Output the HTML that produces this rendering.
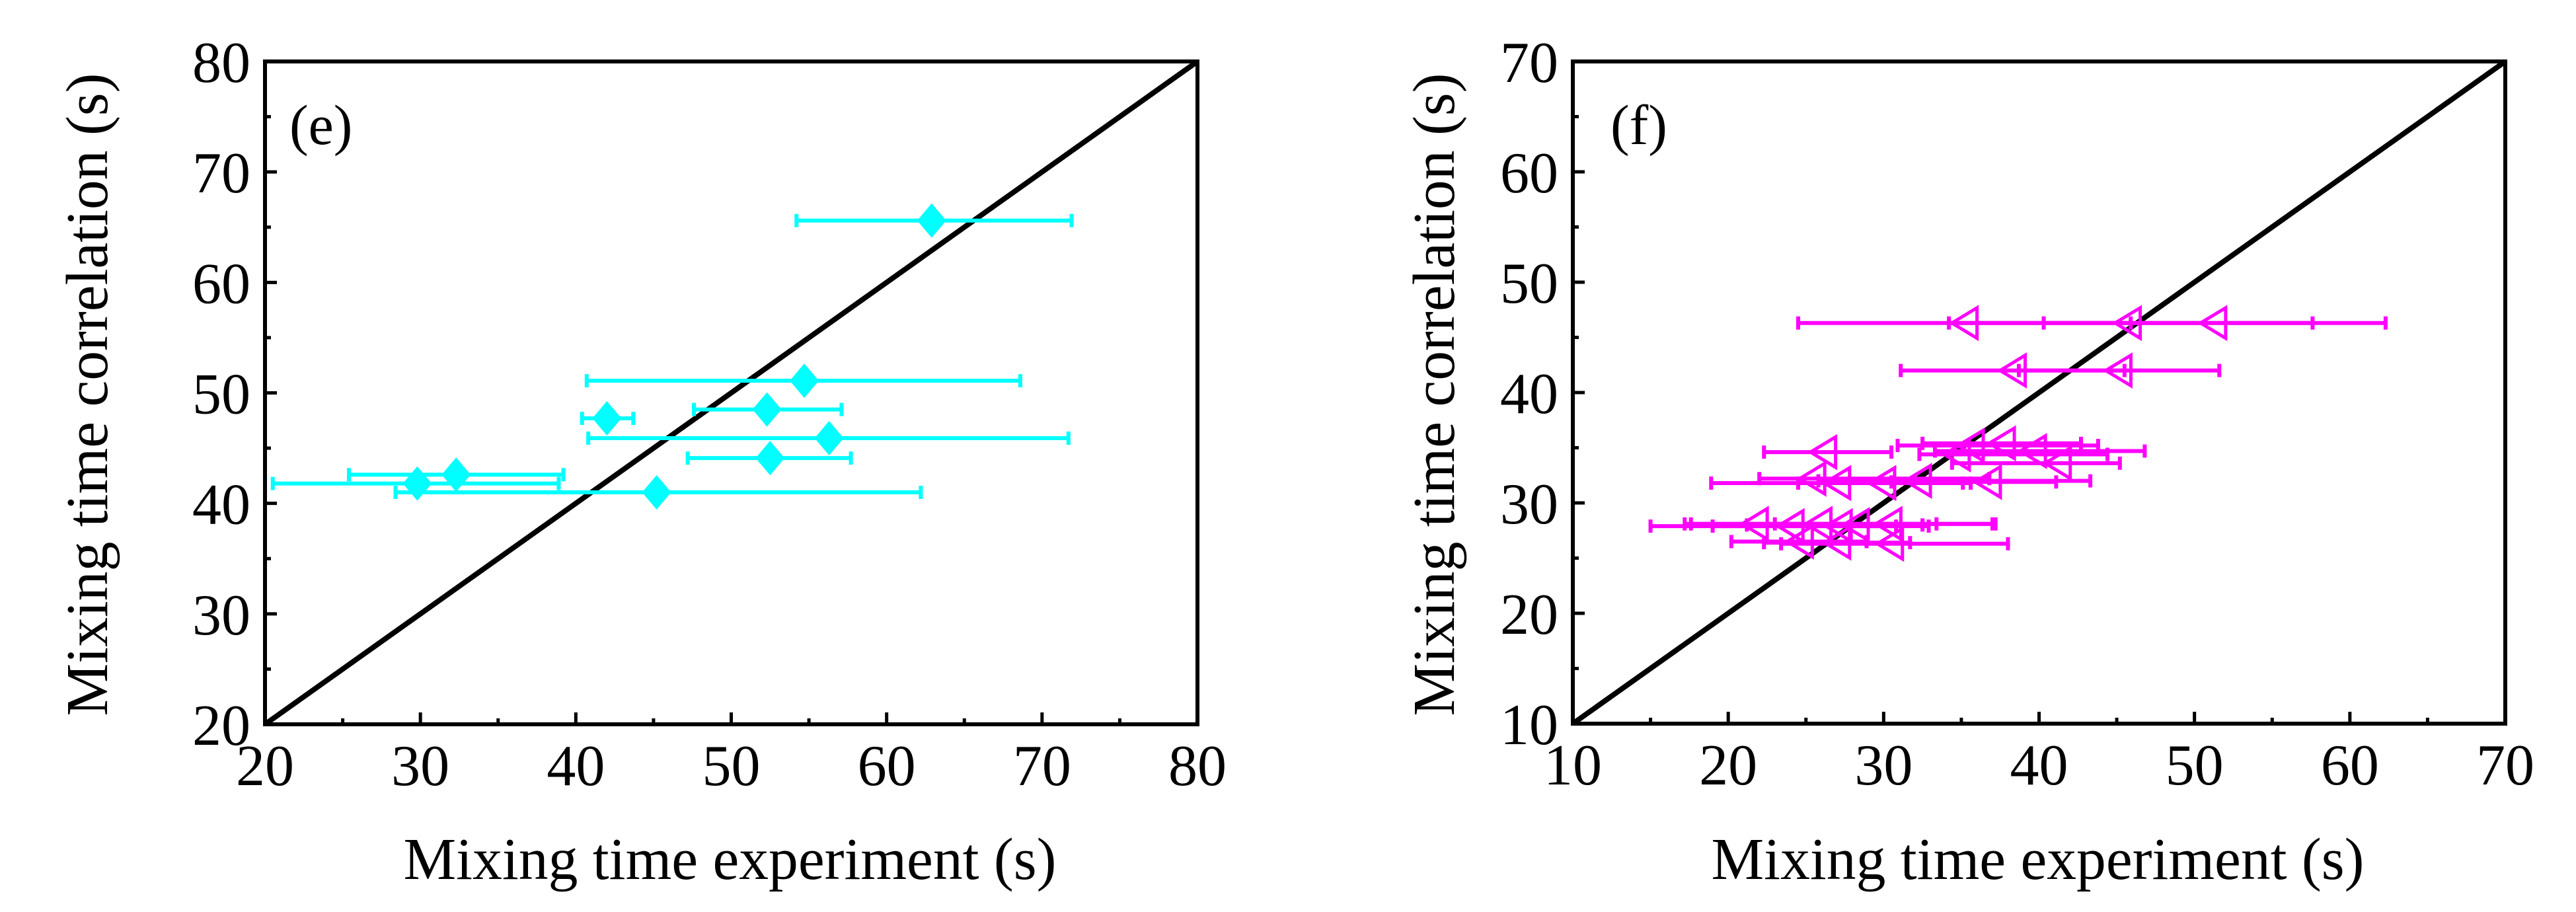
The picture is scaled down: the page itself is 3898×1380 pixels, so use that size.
<!DOCTYPE html>
<html><head><meta charset="utf-8"><style>
html,body{margin:0;padding:0;background:#fff;}
svg{display:block;font-family:"Liberation Serif",serif;}
</style></head><body>
<svg id="chart" width="3898" height="1380" viewBox="0 0 3898 1380" xmlns="http://www.w3.org/2000/svg"></svg>
<script>
// Panel (e) data
const eX = [62.9, 54.7, 52.3, 42.0, 56.3, 52.5, 32.3, 29.8, 45.2];
const eY = [65.6, 51.1, 48.5, 47.7, 45.9, 44.1, 42.6, 41.8, 41.0];
const eXlo = [54.2, 40.7, 47.6, 40.4, 40.8, 47.2, 25.4, 20.5, 28.4];
const eXhi = [71.9, 68.6, 57.1, 43.7, 71.7, 57.7, 39.2, 38.9, 62.2];
const eTicks = [20, 30, 40, 50, 60, 70, 80];
// Panel (f) data
const fX = [35.2, 45.7, 51.2, 38.3, 45.1, 26.1, 35.6, 37.6, 39.6, 41.2, 34.7, 25.4, 27.0, 29.9, 32.2, 36.7, 21.7, 24.0, 25.8, 27.1, 28.2, 30.3, 24.6, 27.0, 30.4];
const fY = [46.3, 46.3, 46.3, 42.0, 42.0, 34.6, 35.2, 35.4, 34.7, 33.6, 34.4, 32.2, 31.8, 31.8, 32.0, 31.9, 28.1, 27.9, 28.1, 27.9, 28.0, 28.1, 26.5, 26.4, 26.3];
const fXlo = [24.5, 34.2, 40.3, 31.1, 38.7, 22.3, 30.9, 32.5, 33.3, 34.4, 32.3, 22.0, 18.9, 24.5, 25.8, 30.5, 17.2, 15.0, 17.6, 19.0, 21.2, 23.0, 20.2, 22.3, 23.4];
const fXhi = [45.9, 57.6, 62.3, 45.5, 51.6, 30.5, 43.8, 42.7, 46.8, 45.2, 44.4, 36.8, 35.1, 35.6, 43.3, 41.1, 33.4, 32.9, 37.2, 30.8, 32.5, 37.0, 28.9, 31.7, 38.0];
const fTicks = [10, 20, 30, 40, 50, 60, 70];

const NS = "http://www.w3.org/2000/svg";
const svg = document.getElementById('chart');
function mk(tag, attrs, parent) {
  const el = document.createElementNS(NS, tag);
  for (const k in attrs) el.setAttribute(k, attrs[k]);
  (parent || svg).appendChild(el);
  return el;
}

function panel(cfg) {
  const g = mk('g', {});
  
  
  const {L, R, T, B, min, max} = cfg;
  const sx = v => L + (v - min) / (max - min) * (R - L);
  const sy = v => B - (v - min) / (max - min) * (B - T);
  const d = mk('line', {x1: sx(min), y1: sy(min), x2: sx(max), y2: sy(max), stroke: '#000', 'stroke-width': 8}, g);
  
  
  for (let i = 0; i < cfg.xs.length; i++) {
    const y = sy(cfg.ys[i]), x1 = sx(cfg.lo[i]), x2 = sx(cfg.hi[i]);
    const eb = mk('path', {d: `M${x1},${y}H${x2}M${x1},${y-10}V${y+10}M${x2},${y-10}V${y+10}`, stroke: cfg.color, 'stroke-width': 6, fill: 'none'}, g);
    
    
  }
  for (let i = 0; i < cfg.xs.length; i++) {
    const x = sx(cfg.xs[i]), y = sy(cfg.ys[i]);
    let m;
    if (cfg.marker === 'diamond') {
      m = mk('path', {d: `M${x},${y-26}L${x+22},${y}L${x},${y+26}L${x-22},${y}Z`, fill: cfg.color}, g);
    } else {
      m = mk('path', {d: `M${x-19},${y}L${x+19},${y-23}L${x+19},${y+23}Z`, fill: 'none', stroke: cfg.color, 'stroke-width': 5}, g);
    }
    
    
  }
  const fr = mk('rect', {x: L, y: T, width: R - L, height: B - T, fill: 'none', stroke: '#000', 'stroke-width': 6}, g);
  
  
  for (let v = min; v <= max; v += 5) {
    const major = (v - min) % 10 === 0;
    const len = major ? 18 : 9;
    const tx = mk('line', {x1: sx(v), y1: B, x2: sx(v), y2: B - len, stroke: '#000', 'stroke-width': 5}, g);
    
    
    const ty = mk('line', {x1: L, y1: sy(v), x2: L + len, y2: sy(v), stroke: '#000', 'stroke-width': 5}, g);
    
    
  }
  cfg.ticks.forEach(v => {
    const a = mk('text', {x: sx(v), y: B + 92, 'font-size': 88, 'text-anchor': 'middle'}, g);
    a.textContent = v;
    
    
    const b = mk('text', {x: L - 22, y: sy(v) + 31, 'font-size': 88, 'text-anchor': 'end'}, g);
    b.textContent = v;
    
    
  });
  const xt = mk('text', {x: (L + R) / 2 - 2, y: 1330, 'font-size': 90, 'text-anchor': 'middle', textLength: 988, lengthAdjust: 'spacingAndGlyphs'}, g);
  xt.textContent = 'Mixing time experiment (s)';
  
  
  const yt = mk('text', {x: 0, y: 0, 'font-size': 90, 'text-anchor': 'middle', textLength: 973, lengthAdjust: 'spacingAndGlyphs', transform: `translate(${cfg.yTitleX},597) rotate(-90)`}, g);
  yt.textContent = 'Mixing time correlation (s)';
  
  
  const pl = mk('text', {x: cfg.tagX, y: 218, 'font-size': 86}, g);
  pl.textContent = cfg.tag;
  
  
}

panel({name: 'panel-e', L: 401, R: 1812, T: 93, B: 1096, min: 20, max: 80, xs: eX, ys: eY, lo: eXlo, hi: eXhi, ticks: eTicks, color: '#00ffff', marker: 'diamond', yTitleX: 162, tagX: 438, tag: '(e)'});
panel({name: 'panel-f', L: 2380, R: 3791, T: 93, B: 1095, min: 10, max: 70, xs: fX, ys: fY, lo: fXlo, hi: fXhi, ticks: fTicks, color: '#ff00ff', marker: 'triangle', yTitleX: 2200, tagX: 2437, tag: '(f)'});
</script>
</body></html>
